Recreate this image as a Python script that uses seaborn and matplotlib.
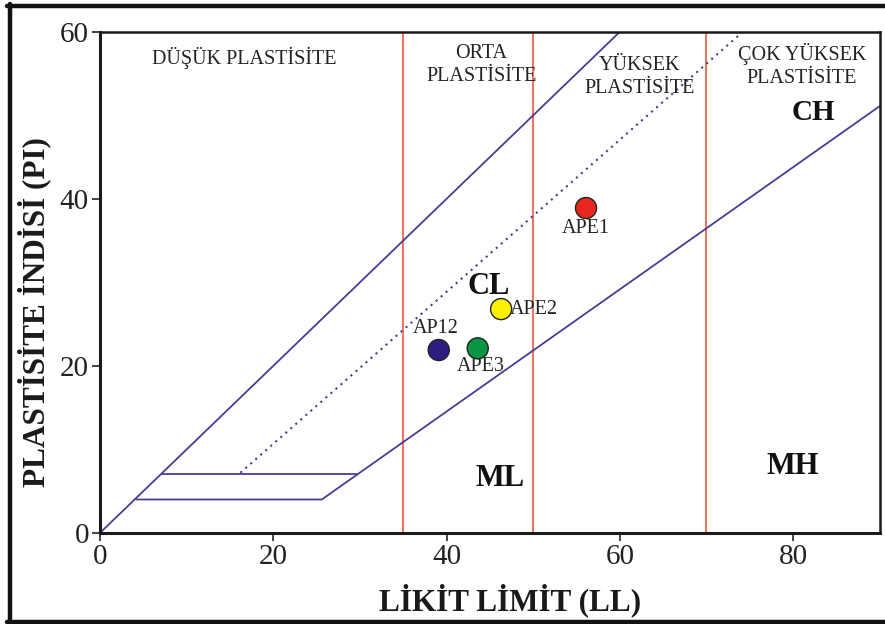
import matplotlib
matplotlib.use("Agg")
import matplotlib.pyplot as plt
import matplotlib.lines as mlines
import seaborn as sns
import pandas as pd

# Numuneler (LL, PI)
ornekler = ["APE1", "APE2", "AP12", "APE3"]
ll_degerleri = [56.1, 46.3, 39.1, 43.6]
pi_degerleri = [38.9, 26.8, 21.9, 22.1]
renkler = ["#e8281e", "#fff200", "#2e1c80", "#0a9444"]

# Sınır çizgileri
ust_sinir_ll = [0, 60]
ust_sinir_pi = [0, 60]
u_hatti_ll = [16.2, 74.2]
u_hatti_pi = [7.2, 60]
a_hatti_ll = [4.2, 25.6, 90]
a_hatti_pi = [4, 4, 51.1]
ust_yatay_ll = [7.2, 29.7]
ust_yatay_pi = [7, 7]
plastisite_sinirlari = [35, 50, 70]

df = pd.DataFrame({"LL": ll_degerleri, "PI": pi_degerleri, "numune": ornekler})

sns.set_style("ticks")
plt.rcParams["font.family"] = ["Liberation Serif", "DejaVu Serif"]

fig = plt.figure(figsize=(8.85, 6.24), dpi=100)
ax = fig.add_axes([0.113, 0.146, 0.881, 0.803])

cizgi_renk = "#4b3c93"
kirmizi = "#e9765f"

for x in plastisite_sinirlari:
    ax.axvline(x, color=kirmizi, lw=1.5, zorder=1)

ax.plot(ust_sinir_ll, ust_sinir_pi, color=cizgi_renk, lw=1.3)
ax.plot(a_hatti_ll, a_hatti_pi, color=cizgi_renk, lw=1.3)
ax.plot(ust_yatay_ll, ust_yatay_pi, color=cizgi_renk, lw=1.3)
ax.plot(u_hatti_ll, u_hatti_pi, color=cizgi_renk, lw=1.5, ls=(0, (1, 2.2)))

sns.scatterplot(data=df, x="LL", y="PI", hue="numune", palette=renkler,
                s=230, edgecolor="#222222", linewidth=1.0, legend=False,
                zorder=5, ax=ax)

# Numune etiketleri
etiket_ayar = {
    "APE1": (0, -2.4, "center", "center"),
    "APE2": (1.0, 0, "left", "center"),
    "AP12": (-0.3, 2.6, "center", "center"),
    "APE3": (0.3, -2.2, "center", "center"),
}
for ad, x, y in zip(ornekler, ll_degerleri, pi_degerleri):
    dx, dy, ha, va = etiket_ayar[ad]
    ax.text(x + dx, y + dy, ad, ha=ha, va=va, fontsize=14.5, color="#222222")

# Bölge yazıları
yazi = dict(ha="center", va="center", fontsize=14.5, color="#222222", linespacing=1.3)
ax.text(16.6, 56.9, "DÜŞÜK PLASTİSİTE", **yazi)
ax.text(44.0, 56.0, "ORTA\nPLASTİSİTE", **yazi)
ax.text(62.3, 54.6, "YÜKSEK\nPLASTİSİTE", **yazi)
ax.text(81.0, 56.0, "ÇOK YÜKSEK\nPLASTİSİTE", **yazi)

ax.text(44.9, 29.5, "CL", ha="center", va="center", fontsize=22, fontweight="bold", color="#111111")
ax.text(82.4, 50.3, "CH", ha="center", va="center", fontsize=21, fontweight="bold", color="#111111")
ax.text(46.2, 6.5, "ML", ha="center", va="center", fontsize=22, fontweight="bold", color="#111111")
ax.text(80.0, 8.0, "MH", ha="center", va="center", fontsize=22, fontweight="bold", color="#111111")

ax.set_xlim(0, 90)
ax.set_ylim(0, 60)
ax.set_xticks([0, 20, 40, 60, 80])
ax.set_yticks([0, 20, 40, 60])
ax.tick_params(axis="both", labelsize=21, length=6, width=1.2, direction="out",
               colors="#222222", pad=2)
for k in ["left", "bottom"]:
    ax.spines[k].set_linewidth(2.2)
for k in ["top", "right"]:
    ax.spines[k].set_linewidth(1.8)
for sp in ax.spines.values():
    sp.set_color("#1a1a1a")

ax.set_xlabel("LİKİT LİMİT (LL)", fontsize=22.5, fontweight="bold", color="#1a1a1a")
ax.set_ylabel("PLASTİSİTE İNDİSİ (PI)", fontsize=22.5, fontweight="bold", color="#1a1a1a")
ax.xaxis.set_label_coords(0.526, -0.1)
ax.yaxis.set_label_coords(-0.062, 0.44)

# Dış çerçeve (üst, sol, alt)
for xs, ys in [([0.008, 1.0], [0.991, 0.991]),
               ([0.011, 0.011], [0.0, 0.993]),
               ([0.008, 1.0], [0.003, 0.003])]:
    fig.add_artist(mlines.Line2D(xs, ys, transform=fig.transFigure, color="#111111", lw=3.2))

fig.savefig("out.png", dpi=100)
